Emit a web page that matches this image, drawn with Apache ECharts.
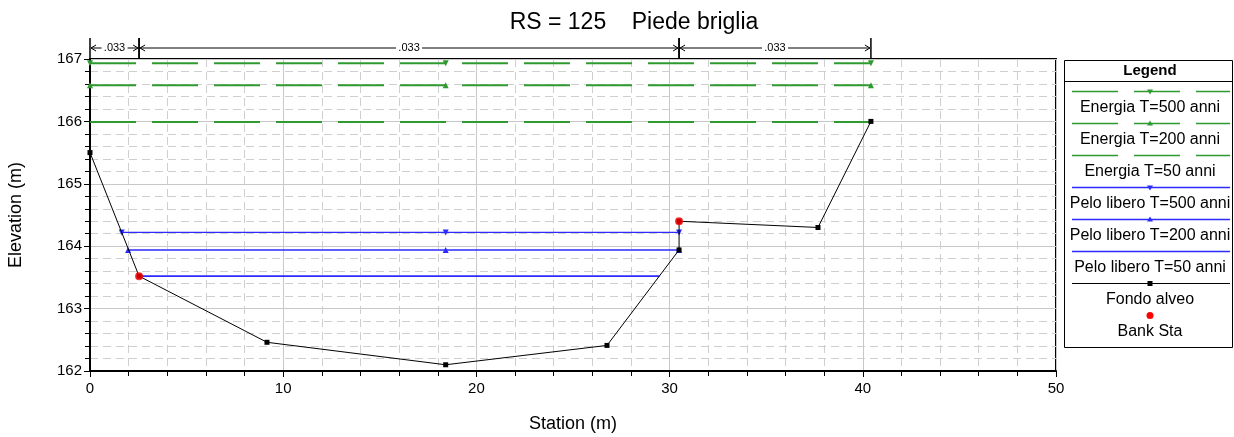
<!DOCTYPE html>
<html><head><meta charset="utf-8">
<script src="https://cdn.jsdelivr.net/npm/echarts@6/dist/echarts.min.js"></script>
<style>html,body{margin:0;padding:0;background:#fff}#c{width:1234px;height:437px}</style>
</head><body><div id="c"></div>
<script>
// ---------- data ----------
const xTicks = [0, 10, 20, 30, 40, 50];
const yTicks = [162, 163, 164, 165, 166, 167];

const fondoStation = [0, 2.54, 9.16, 18.41, 26.76, 30.49, 30.49, 37.68, 40.42];
const fondoElev    = [165.5, 163.52, 162.46, 162.1, 162.41, 163.94, 164.40, 164.30, 166.0];

const bankStation = [2.54, 30.49];
const bankElev    = [163.52, 164.40];

const pelo500Station = [1.64, 18.41, 30.49];
const pelo500Elev    = [164.22, 164.22, 164.22];
const pelo200Station = [1.97, 18.41, 30.49];
const pelo200Elev    = [163.94, 163.94, 163.94];
const pelo50Station  = [2.54, 29.47];
const pelo50Elev     = [163.52, 163.52];

const energia500Station = [0, 18.41, 40.42];
const energia500Elev    = [166.93, 166.93, 166.93];
const energia200Station = [0, 18.41, 40.42];
const energia200Elev    = [166.58, 166.58, 166.58];
const energia50Station  = [0, 40.42];
const energia50Elev     = [165.99, 165.99];

const nStart = [0, 2.54, 30.49];
const nEnd   = [2.54, 30.49, 40.42];
const nLabel = ['.033', '.033', '.033'];

const seriesNames = ['Energia T=500 anni', 'Energia T=200 anni', 'Energia T=50 anni',
  'Pelo libero T=500 anni', 'Pelo libero T=200 anni', 'Pelo libero T=50 anni',
  'Fondo alveo', 'Bank Sta'];
const titleText = 'RS = 125    Piede briglia';

// ---------- style ----------
const FONT = '"Liberation Sans", Arial, Helvetica, sans-serif';
const GREEN = '#2f9a2f';
const BLUE = '#2b2bff';
const DASH = [46, 16];
const XMIN = 0, XMAX = 50, YMIN = 162, YMAX = 167;

const zip = (a, b) => a.map((v, i) => [v, b[i]]);

function lineSeries(name, xs, ys, color, width, dash, symbol, symbolSize, showSym, z) {
  return {
    name, type: 'line', data: zip(xs, ys),
    symbol: symbol || 'none', symbolSize: symbolSize || 6, showSymbol: !!showSym,
    itemStyle: { color, borderWidth: 0 },
    lineStyle: { color, width, type: dash || 'solid' },
    emphasis: { disabled: true }, animation: false, z: z || 2, clip: false
  };
}

const series = [
  lineSeries(seriesNames[2], energia50Station, energia50Elev, GREEN, 2, DASH, 'none', 0, false, 2),
  lineSeries(seriesNames[1], energia200Station, energia200Elev, GREEN, 2, DASH, 'triangle', 6, true, 3),
  lineSeries(seriesNames[0], energia500Station, energia500Elev, GREEN, 2, DASH, 'path://M0,0L10,0L5,9Z', 6, true, 3),
  lineSeries(seriesNames[5], pelo50Station, pelo50Elev, BLUE, 1.6, 'solid', 'none', 0, false, 4),
  lineSeries(seriesNames[4], pelo200Station, pelo200Elev, BLUE, 1.6, 'solid', 'triangle', 6, true, 4),
  lineSeries(seriesNames[3], pelo500Station, pelo500Elev, BLUE, 1.3, 'solid', 'path://M0,0L10,0L5,9Z', 6, true, 4),
  lineSeries(seriesNames[6], fondoStation, fondoElev, '#000', 1, 'solid', 'rect', 5, true, 5),
  {
    name: seriesNames[7], type: 'scatter', data: zip(bankStation, bankElev),
    symbol: 'circle', symbolSize: 8, itemStyle: { color: '#ff0000' }, z: 6, animation: false
  },
  {
    name: 'nValues', type: 'custom', clip: false, animation: false, z: 7,
    data: nStart.map((s, i) => [s, nEnd[i]]),
    encode: { x: [0, 1] },
    renderItem: function (params, api) {
      const x0 = api.value(0), x1 = api.value(1);
      const p0 = api.coord([x0, YMAX]);
      const p1 = api.coord([x1, YMAX]);
      const top = p0[1] - 21, ly = p0[1] - 11;
      const mid = (p0[0] + p1[0]) / 2;
      const half = 13;
      const st = { stroke: '#000', lineWidth: 1, fill: null };
      return {
        type: 'group',
        children: [
          { type: 'line', shape: { x1: p0[0], y1: top, x2: p0[0], y2: p0[1] }, style: { stroke: '#000', lineWidth: 1.5 } },
          { type: 'line', shape: { x1: p1[0], y1: top, x2: p1[0], y2: p1[1] }, style: { stroke: '#000', lineWidth: 1.5 } },
          { type: 'line', shape: { x1: p0[0] + 1, y1: ly, x2: mid - half, y2: ly }, style: st },
          { type: 'line', shape: { x1: mid + half, y1: ly, x2: p1[0] - 1, y2: ly }, style: st },
          { type: 'polyline', shape: { points: [[p0[0] + 6, ly - 3], [p0[0] + 1, ly], [p0[0] + 6, ly + 3]] }, style: st },
          { type: 'polyline', shape: { points: [[p1[0] - 6, ly - 3], [p1[0] - 1, ly], [p1[0] - 6, ly + 3]] }, style: st },
          { type: 'text', x: mid, y: ly, style: { text: nLabel[params.dataIndex], fill: '#000', font: '11px ' + FONT, align: 'center', verticalAlign: 'middle' } }
        ]
      };
    }
  }
];

// ---------- legend (graphic) ----------
const legendDefs = [
  { color: GREEN, dash: DASH, mark: 'down' },
  { color: GREEN, dash: DASH, mark: 'up' },
  { color: GREEN, dash: DASH, mark: null },
  { color: BLUE, dash: null, mark: 'down' },
  { color: BLUE, dash: null, mark: 'up' },
  { color: BLUE, dash: null, mark: null },
  { color: '#000', dash: null, mark: 'sq' },
  { color: null, dash: null, mark: 'dot' }
];
const LX0 = 1064, LX1 = 1232, LCX = 1150;
const legendChildren = [
  { type: 'rect', shape: { x: LX0 + 0.5, y: 60.5, width: LX1 - LX0, height: 287 }, style: { fill: '#fff', stroke: '#000', lineWidth: 1 } },
  { type: 'text', x: LCX, y: 71, style: { text: 'Legend', font: 'bold 15px ' + FONT, fill: '#000', align: 'center', verticalAlign: 'middle' } },
  { type: 'line', shape: { x1: LX0, y1: 81.5, x2: LX1, y2: 81.5 }, style: { stroke: '#000', lineWidth: 1 } }
];
legendDefs.forEach((d, i) => {
  const ly = 91.5 + i * 32;
  if (d.color) {
    legendChildren.push({ type: 'line', shape: { x1: 1072, y1: ly, x2: 1230, y2: ly },
      style: { stroke: d.color, lineWidth: d.color === '#000' ? 1 : 1.6, lineDash: d.dash || null } });
  }
  if (d.mark === 'down') legendChildren.push({ type: 'polygon', shape: { points: [[LCX - 3, ly - 2], [LCX + 3, ly - 2], [LCX, ly + 3]] }, style: { fill: d.color } });
  if (d.mark === 'up') legendChildren.push({ type: 'polygon', shape: { points: [[LCX - 3, ly + 2], [LCX + 3, ly + 2], [LCX, ly - 3]] }, style: { fill: d.color } });
  if (d.mark === 'sq') legendChildren.push({ type: 'rect', shape: { x: LCX - 2.5, y: ly - 2.5, width: 5, height: 5 }, style: { fill: '#000' } });
  if (d.mark === 'dot') legendChildren.push({ type: 'circle', shape: { cx: LCX, cy: ly, r: 3.5 }, style: { fill: '#ff0000' } });
  legendChildren.push({ type: 'text', x: LCX, y: ly + 16, style: { text: seriesNames[i], font: '16px ' + FONT, fill: '#000', align: 'center', verticalAlign: 'middle' } });
});

// ---------- chart ----------
const chart = echarts.init(document.getElementById('c'), null, { renderer: 'canvas' });
chart.setOption({
  backgroundColor: '#fff',
  animation: false,
  textStyle: { fontFamily: FONT },
  title: {
    text: titleText, left: 629, top: 6, textAlign: 'center',
    textStyle: { fontSize: 23, fontWeight: 'normal', color: '#000', fontFamily: FONT }
  },
  grid: { left: 90, right: 178, top: 59, bottom: 66, show: true, borderColor: '#000', borderWidth: 2,
    backgroundColor: 'transparent', containLabel: false, outerBoundsMode: 'none' },
  xAxis: {
    type: 'value', min: XMIN, max: XMAX, interval: 10,
    name: 'Station (m)', nameLocation: 'middle', nameGap: 44,
    nameTextStyle: { fontSize: 18, color: '#000', fontFamily: FONT },
    axisLine: { show: true, onZero: false, lineStyle: { color: '#000', width: 2 } },
    axisTick: { show: true, inside: false, length: 6, lineStyle: { color: '#000' } },
    minorTick: { show: true, splitNumber: 5, length: 5, lineStyle: { color: '#000' } },
    axisLabel: { fontSize: 15, color: '#000', margin: 10, fontFamily: FONT,
      formatter: v => xTicks.includes(v) ? String(v) : '' },
    splitLine: { show: true, lineStyle: { color: '#c8c8c8', width: 1 } },
    minorSplitLine: { show: true, lineStyle: { color: '#cfcfcf', width: 1, type: [8, 5] } }
  },
  yAxis: {
    type: 'value', min: YMIN, max: YMAX, interval: 1,
    name: 'Elevation (m)', nameLocation: 'middle', nameGap: 65, nameRotate: 90,
    nameTextStyle: { fontSize: 18, color: '#000', fontFamily: FONT },
    axisLine: { show: true, onZero: false, lineStyle: { color: '#000', width: 2 } },
    axisTick: { show: true, inside: false, length: 6, lineStyle: { color: '#000' } },
    minorTick: { show: true, splitNumber: 5, length: 5, lineStyle: { color: '#000' } },
    axisLabel: { fontSize: 15, color: '#000', margin: 8, fontFamily: FONT, padding: [4, 0, 0, 0],
      formatter: v => yTicks.includes(v) ? String(v) : '' },
    splitLine: { show: true, lineStyle: { color: '#c8c8c8', width: 1 } },
    minorSplitLine: { show: true, lineStyle: { color: '#cfcfcf', width: 1, type: [8, 5] } }
  },
  graphic: [{ type: 'group', silent: true, children: legendChildren }],
  series
});
</script>
</body></html>
